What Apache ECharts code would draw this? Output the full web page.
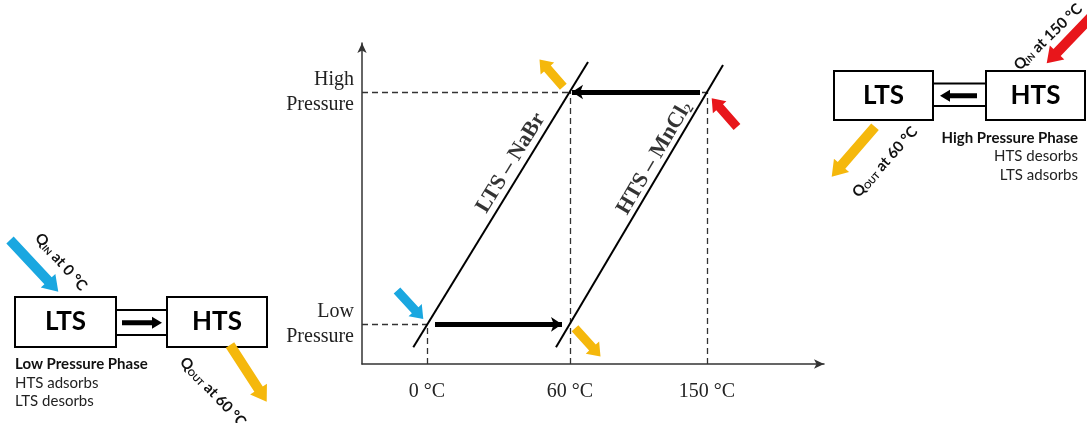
<!DOCTYPE html>
<html><head><meta charset="utf-8">
<script src="https://cdn.jsdelivr.net/npm/echarts@6/dist/echarts.min.js"></script>
<style>html,body{margin:0;padding:0;background:#fff}#c{width:1087px;height:423px}</style>
</head><body><div id="c"></div>
<script>
// ---- schematic data (x: schematic temperature position, y: schematic pressure position) ----
const tempLabels = ['0 °C', '60 °C', '150 °C'];
const tempPos = [6.5, 20.8, 34.5];
const pressureLabels = ['Low\nPressure', 'High\nPressure'];
const pressurePos = [3.97, 27.2];
const ltsLine = [[5.13, 1.67], [22.6, 30.2]];
const htsLine = [[19.4, 1.67], [36.1, 29.9]];
const lineNames = ['LTS – NaBr', 'HTS – MnCl'];
const lineLabelPos = [[14.9, 20.1], [29.25, 20.6]];
const cycleArrows = [[[7.3, 3.97], [20.0, 3.97]], [[33.8, 27.2], [21.0, 27.2]]];
const heatArrows = [[3.5, 7.35, 6.13, 4.5], [20.13, 27.73, 17.75, 30.45], [37.5, 23.7, 34.97, 26.57], [21.3, 3.57, 23.85, 0.75]];
const heatArrowKinds = ['cold', 'warm', 'hot', 'warm'];

// ---- styles ----
const heatColors = { cold: '#1AA7E0', warm: '#F5B80C', hot: '#E8161B' };
const serif = '"Liberation Serif", "Times New Roman", serif';
const sans = 'Lato, "Open Sans", sans-serif';

function arrowPts(t, h, sw, hw, hl) {
  const dx = h[0] - t[0], dy = h[1] - t[1], L = Math.hypot(dx, dy);
  const ux = dx / L, uy = dy / L, nx = -uy, ny = ux;
  const bx = h[0] - ux * hl, by = h[1] - uy * hl;
  return [
    [t[0] + nx * sw, t[1] + ny * sw], [bx + nx * sw, by + ny * sw], [bx + nx * hw, by + ny * hw],
    [h[0], h[1]],
    [bx - nx * hw, by - ny * hw], [bx - nx * sw, by - ny * sw], [t[0] - nx * sw, t[1] - ny * sw]
  ];
}
function nearestLabel(v, pos, labels) {
  let bi = 0;
  pos.forEach((p, i) => { if (Math.abs(p - v) < Math.abs(pos[bi] - v)) bi = i; });
  return labels[bi];
}

const guideData = [
  { coords: [[0, pressurePos[0]], [tempPos[0], pressurePos[0]]] },
  { coords: [[0, pressurePos[1]], [tempPos[2], pressurePos[1]]] },
  { coords: [[tempPos[0], 0], [tempPos[0], pressurePos[0]]] },
  { coords: [[tempPos[1], 0], [tempPos[1], pressurePos[1]]] },
  { coords: [[tempPos[2], 0], [tempPos[2], pressurePos[1]]] }
];

function angleOf(seg) {
  return Math.atan2(seg[1][1] - seg[0][1], seg[1][0] - seg[0][0]) * 180 / Math.PI;
}

// ---- side schematics (graphic) ----
const qRich = {
  q: { fontSize: 15, fontWeight: 'bold', fontFamily: sans, fill: '#111' },
  s: { fontSize: 9, fontWeight: 'bold', fontFamily: sans, fill: '#111', verticalAlign: 'bottom', padding: [6, 0, 0, 0] },
  t: { fontSize: 15, fontWeight: 'bold', fontFamily: sans, fill: '#111' }
};
function box(x, y, w, h) {
  return { type: 'rect', shape: { x, y, width: w, height: h }, style: { fill: '#fff', stroke: '#000', lineWidth: 2 } };
}
function label(x, y, text, opts) {
  return { type: 'text', x, y, style: Object.assign({ text, fontFamily: sans, fill: '#222', align: 'left', verticalAlign: 'middle' }, opts) };
}
function qText(x, y, sub, rest, deg) {
  return { type: 'text', x, y, rotation: deg * Math.PI / 180,
    style: { text: '{q|Q}{s|' + sub + '}{t| at ' + rest + '}', rich: qRich, align: 'center', verticalAlign: 'middle' } };
}
function polyArrow(t, h, sw, hw, hl, color) {
  return { type: 'polygon', shape: { points: arrowPts(t, h, sw, hw, hl) }, style: { fill: color } };
}

const graphics = [
  // left: low pressure phase
  { type: 'rect', shape: { x: 116, y: 310, width: 51, height: 25 }, style: { fill: '#fff', stroke: '#000', lineWidth: 2 } },
  box(15, 297, 101, 50), box(167, 297, 100, 50),
  polyArrow([122, 322.7], [162, 322.7], 2.5, 6, 10, '#000'),
  label(65.5, 322, 'LTS', { align: 'center', fontSize: 26, fontWeight: 'bold', fill: '#000' }),
  label(217, 322, 'HTS', { align: 'center', fontSize: 26, fontWeight: 'bold', fill: '#000' }),
  label(15, 364, 'Low Pressure Phase', { fontSize: 15, fontWeight: 'bold', fill: '#111' }),
  label(15, 382.7, 'HTS adsorbs', { fontSize: 15 }),
  label(15, 401, 'LTS desorbs', { fontSize: 15 }),
  polyArrow([10, 240], [58.3, 291.7], 5, 10, 15, heatColors.cold),
  qText(61, 262, 'IN', '0 °C', -49),
  polyArrow([230, 345], [266.7, 401.7], 5, 10, 15, heatColors.warm),
  qText(213, 392, 'OUT', '60 °C', -47),
  // right: high pressure phase
  { type: 'rect', shape: { x: 933, y: 83.5, width: 53, height: 22.5 }, style: { fill: '#fff', stroke: '#000', lineWidth: 2 } },
  box(834, 71, 99, 49), box(986, 71, 99, 49),
  polyArrow([977, 95.7], [940, 95.7], 2.5, 6, 10, '#000'),
  label(883.5, 95.5, 'LTS', { align: 'center', fontSize: 26, fontWeight: 'bold', fill: '#000' }),
  label(1035.5, 95.5, 'HTS', { align: 'center', fontSize: 26, fontWeight: 'bold', fill: '#000' }),
  label(1078, 138.3, 'High Pressure Phase', { align: 'right', fontSize: 15, fontWeight: 'bold', fill: '#111' }),
  label(1078, 156.5, 'HTS desorbs', { align: 'right', fontSize: 15 }),
  label(1078, 175, 'LTS adsorbs', { align: 'right', fontSize: 15 }),
  polyArrow([1092, 16], [1046.7, 63.3], 5, 10, 15, heatColors.hot),
  qText(1048, 37, 'IN', '150 °C', 44),
  polyArrow([875, 126.7], [831.7, 176.7], 5, 10, 15, heatColors.warm),
  qText(885, 162, 'OUT', '60 °C', 48)
];

const chart = echarts.init(document.getElementById('c'), null, { renderer: 'canvas' });
chart.setOption({
  backgroundColor: '#fff',
  animation: false,
  grid: { left: 362, right: 263, top: 43, bottom: 59, outerBoundsMode: 'none' },
  xAxis: {
    type: 'value', min: 0, max: 46.2,
    axisLine: { show: true, symbol: ['none', 'arrow'], symbolSize: [7, 10], lineStyle: { color: '#333', width: 1.5 } },
    axisTick: { show: false }, splitLine: { show: false },
    axisLabel: { customValues: tempPos, formatter: v => nearestLabel(v, tempPos, tempLabels),
      fontFamily: serif, fontSize: 20, color: '#222', margin: 18 }
  },
  yAxis: {
    type: 'value', min: 0, max: 32.1,
    axisLine: { show: true, symbol: ['none', 'arrow'], symbolSize: [7, 10], lineStyle: { color: '#333', width: 1.5 } },
    axisTick: { show: false }, splitLine: { show: false },
    axisLabel: { customValues: pressurePos, formatter: v => nearestLabel(v, pressurePos, pressureLabels),
      fontFamily: serif, fontSize: 20, color: '#222', lineHeight: 25, margin: 8, align: 'right', padding: [12, 0, 0, 0] }
  },
  graphic: { elements: graphics },
  series: [
    { type: 'lines', coordinateSystem: 'cartesian2d', silent: true, z: 1,
      lineStyle: { color: '#333', width: 1.3, type: [6, 4], opacity: 1 }, data: guideData },
    { type: 'line', data: ltsLine, symbol: 'none', lineStyle: { color: '#000', width: 2 }, z: 3 },
    { type: 'line', data: htsLine, symbol: 'none', lineStyle: { color: '#000', width: 2 }, z: 3 },
    { type: 'lines', coordinateSystem: 'cartesian2d', z: 4, symbol: ['none', 'arrow'], symbolSize: 11,
      lineStyle: { color: '#000', width: 5, opacity: 1 }, data: cycleArrows.map(c => ({ coords: c })) },
    { type: 'custom', coordinateSystem: 'cartesian2d', z: 5, clip: false,
      data: heatArrows,
      renderItem: (params, api) => {
        const t = api.coord([api.value(0), api.value(1)]);
        const h = api.coord([api.value(2), api.value(3)]);
        return { type: 'polygon', shape: { points: arrowPts(t, h, 4.5, 9, 12) },
          style: { fill: heatColors[heatArrowKinds[params.dataIndex]] } };
      } },
    { type: 'scatter', symbolSize: 0, z: 6, silent: true,
      data: lineLabelPos.map((p, i) => ({
        value: p,
        label: {
          show: true, position: 'inside',
          rotate: angleOf(i === 0 ? ltsLine : htsLine),
          formatter: i === 0 ? '{m|' + lineNames[0] + '}' : '{m|' + lineNames[1] + '}{s|2}',
          rich: {
            m: { fontFamily: serif, fontSize: 22, fontWeight: 'bold', color: '#000' },
            s: { fontFamily: serif, fontSize: 13, fontWeight: 'bold', color: '#000', verticalAlign: 'bottom', padding: [10, 0, 0, 0] }
          }
        }
      })) }
  ]
});
</script></body></html>
